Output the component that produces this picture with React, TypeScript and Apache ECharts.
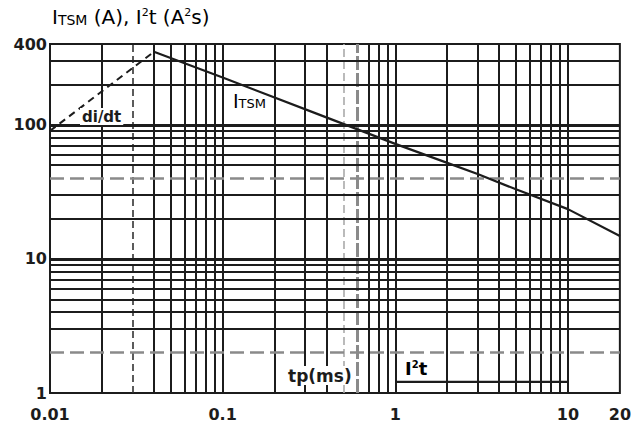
import { useEffect, useRef } from "react";
import * as echarts from "echarts";

// Axis ranges and labelled ticks
const xMin = 0.01;
const xMax = 20;
const yMin = 1;
const yMax = 400;
const xLabels = [0.01, 0.1, 1, 10, 20];
const yLabels = [1, 10, 100, 400];

// Surge current vs. pulse width (A)
const itsmCurve: [number, number][] = [
  [0.04, 350],
  [0.1, 225],
  [0.35, 121],
  [1, 72],
  [2, 52],
  [3, 43],
  [5, 33],
  [10, 23.5],
  [20, 14.8],
];

// Current rise limit (dashed)
const didtCurve: [number, number][] = [
  [0.01, 90],
  [0.04, 350],
];

// I²t (A²s)
const i2tCurve: [number, number][] = [
  [1, 1.21],
  [10, 1.21],
];

// Log-paper grid lines
const xGridSolid = [
  0.02, 0.04, 0.05, 0.06, 0.07, 0.08, 0.09, 0.1, 0.2, 0.3, 0.4, 0.7, 0.8, 0.9,
  1, 2, 3, 4, 5, 6, 7, 8, 9, 10,
];
const xGridDashed = [0.03];
const xGridLight = [0.5];
const xGridGrey = [0.6];
const yGridSolid = [3, 4, 5, 6, 7, 8, 9, 20, 30, 50, 60, 70, 80, 90, 200, 300];
const yGridMajor = [10, 100];
const yGridGrey = [2, 40];

const INK = "#1c1c1c";
const FONT = "DejaVu Sans";

function near(v: number, list: number[]) {
  return list.some((t) => Math.abs(v - t) / t < 1e-6);
}

export default function App() {
  const ref = useRef<HTMLDivElement>(null);

  useEffect(() => {
    if (!ref.current) return;
    const chart = echarts.init(ref.current, undefined, { renderer: "svg" });

    const gridLines: any[] = [
      ...xGridSolid.map((v) => ({ xAxis: v, lineStyle: { color: INK, width: 2, type: "solid" } })),
      ...xGridDashed.map((v) => ({ xAxis: v, lineStyle: { color: "#333", width: 1.6, type: [7, 4] } })),
      ...xGridLight.map((v) => ({ xAxis: v, lineStyle: { color: "#aaa", width: 1.6, type: [8, 4] } })),
      ...xGridGrey.map((v) => ({ xAxis: v, lineStyle: { color: "#8a8a8a", width: 3, type: [14, 3] } })),
      ...yGridSolid.map((v) => ({ yAxis: v, lineStyle: { color: INK, width: 2, type: "solid" } })),
      ...yGridMajor.map((v) => ({ yAxis: v, lineStyle: { color: INK, width: 3, type: "solid" } })),
      ...yGridGrey.map((v) => ({ yAxis: v, lineStyle: { color: "#8a8a8a", width: 2.5, type: [14, 6] } })),
    ];

    const small = (size: number) => ({ fontFamily: FONT, fontSize: size, color: INK, verticalAlign: "bottom" as const });

    chart.setOption({
      animation: false,
      backgroundColor: "#ffffff",
      grid: {
        left: 50,
        top: 44,
        width: 572,
        height: 349,
        show: true,
        borderColor: INK,
        borderWidth: 2,
        containLabel: false,
      },
      xAxis: {
        type: "log",
        logBase: 10,
        min: xMin,
        max: xMax,
        axisLine: { show: false },
        axisTick: { show: false },
        splitLine: { show: false },
        axisLabel: {
          margin: 13,
          fontFamily: FONT,
          fontSize: 16,
          fontWeight: "bold",
          color: INK,
          showMinLabel: true,
          showMaxLabel: true,
          formatter: (v: number) => (near(v, xLabels) ? String(+v.toPrecision(6)) : ""),
        },
      },
      yAxis: {
        type: "log",
        logBase: 10,
        min: yMin,
        max: yMax,
        axisLine: { show: false },
        axisTick: { show: false },
        splitLine: { show: false },
        axisLabel: {
          margin: 3,
          fontFamily: FONT,
          fontSize: 16,
          fontWeight: "bold",
          color: INK,
          showMinLabel: true,
          showMaxLabel: true,
          formatter: (v: number) => (near(v, yLabels) ? String(+v.toPrecision(6)) : ""),
        },
      },
      series: [
        {
          name: "grid",
          type: "line",
          data: [],
          z: 1,
          silent: true,
          markLine: {
            silent: true,
            symbol: ["none", "none"],
            label: { show: false },
            emphasis: { disabled: true },
            animation: false,
            data: gridLines,
          },
        },
        {
          name: "ITSM",
          type: "line",
          data: itsmCurve,
          z: 5,
          showSymbol: false,
          symbol: "none",
          lineStyle: { color: INK, width: 2.2 },
        },
        {
          name: "di/dt",
          type: "line",
          data: didtCurve,
          z: 5,
          showSymbol: false,
          symbol: "none",
          lineStyle: { color: INK, width: 2, type: [7, 5] },
        },
        {
          name: "I2t",
          type: "line",
          data: i2tCurve,
          z: 5,
          showSymbol: false,
          symbol: "none",
          lineStyle: { color: INK, width: 2.2 },
        },
      ],
      graphic: [
        {
          type: "text",
          left: 52,
          top: 7,
          z: 10,
          style: {
            text: "{a|I}{b|TSM}{a| (A), I}{s|2}{a|t (A}{s|2}{a|s)}",
            rich: {
              a: small(20),
              b: small(14),
              s: { fontFamily: FONT, fontSize: 11, color: INK, verticalAlign: "top" },
            },
          },
        },
        {
          type: "text",
          left: 233,
          top: 91,
          z: 10,
          style: {
            text: "{a|I}{b|TSM}",
            rich: { a: small(19), b: small(13) },
          },
        },
        {
          type: "text",
          left: 80,
          top: 108,
          z: 10,
          style: {
            text: "di/dt",
            fontFamily: FONT,
            fontSize: 15,
            fontWeight: "bold",
            fill: INK,
            backgroundColor: "#ffffff",
            padding: [1, 2],
          },
        },
        {
          type: "text",
          left: 286,
          top: 366,
          z: 10,
          style: {
            text: "tp(ms)",
            fontFamily: FONT,
            fontSize: 17,
            fontWeight: "bold",
            fill: INK,
            backgroundColor: "#ffffff",
            padding: [1, 2],
          },
        },
        {
          type: "text",
          left: 405,
          top: 359,
          z: 10,
          style: {
            text: "{a|I}{s|2}{a|t}",
            rich: {
              a: { fontFamily: FONT, fontSize: 18, fontWeight: "bold", color: INK, verticalAlign: "bottom" },
              s: { fontFamily: FONT, fontSize: 10, fontWeight: "bold", color: INK, verticalAlign: "top" },
            },
          },
        },
      ],
    });

    return () => chart.dispose();
  }, []);

  return (
    <div
      ref={ref}
      style={{ position: "fixed", left: 0, top: 0, width: 634, height: 423, background: "#fff" }}
    />
  );
}
